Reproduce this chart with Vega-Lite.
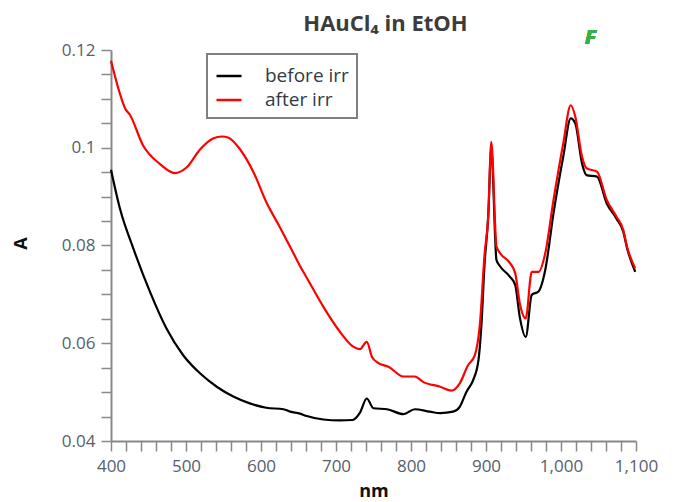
{
  "$schema": "https://vega.github.io/schema/vega-lite/v6.json",
  "width": 525,
  "height": 391,
  "autosize": "none",
  "padding": {"left": 111, "top": 50, "right": 40, "bottom": 61},
  "background": "white",
  "config": {"view": {"stroke": null}, "font": "Open Sans"},
  "title": {"text": "HAuCl₄ in EtOH", "fontSize": 22, "fontWeight": "bold", "color": "#3c3c3c", "font": "Open Sans", "anchor": "middle", "dx": 12, "offset": -8},
  "data": {"values": [
    {"nm": 400, "A": 0.0955, "series": "before irr"},
    {"nm": 412, "A": 0.0875, "series": "before irr"},
    {"nm": 430, "A": 0.0793, "series": "before irr"},
    {"nm": 452, "A": 0.0705, "series": "before irr"},
    {"nm": 474, "A": 0.0630, "series": "before irr"},
    {"nm": 496, "A": 0.0576, "series": "before irr"},
    {"nm": 519, "A": 0.0538, "series": "before irr"},
    {"nm": 541, "A": 0.0511, "series": "before irr"},
    {"nm": 563, "A": 0.0491, "series": "before irr"},
    {"nm": 585, "A": 0.0477, "series": "before irr"},
    {"nm": 607, "A": 0.0468, "series": "before irr"},
    {"nm": 630, "A": 0.0465, "series": "before irr"},
    {"nm": 639, "A": 0.0460, "series": "before irr"},
    {"nm": 652, "A": 0.0456, "series": "before irr"},
    {"nm": 661, "A": 0.0451, "series": "before irr"},
    {"nm": 683, "A": 0.0444, "series": "before irr"},
    {"nm": 705, "A": 0.0442, "series": "before irr"},
    {"nm": 722, "A": 0.0443, "series": "before irr"},
    {"nm": 732, "A": 0.0458, "series": "before irr"},
    {"nm": 741, "A": 0.0487, "series": "before irr"},
    {"nm": 750, "A": 0.0467, "series": "before irr"},
    {"nm": 768, "A": 0.0465, "series": "before irr"},
    {"nm": 790, "A": 0.0455, "series": "before irr"},
    {"nm": 805, "A": 0.0465, "series": "before irr"},
    {"nm": 825, "A": 0.0460, "series": "before irr"},
    {"nm": 839, "A": 0.0457, "series": "before irr"},
    {"nm": 856, "A": 0.0460, "series": "before irr"},
    {"nm": 865, "A": 0.0470, "series": "before irr"},
    {"nm": 874, "A": 0.0501, "series": "before irr"},
    {"nm": 883, "A": 0.0525, "series": "before irr"},
    {"nm": 890, "A": 0.0566, "series": "before irr"},
    {"nm": 894, "A": 0.0640, "series": "before irr"},
    {"nm": 898, "A": 0.0760, "series": "before irr"},
    {"nm": 903, "A": 0.0860, "series": "before irr"},
    {"nm": 907, "A": 0.1000, "series": "before irr"},
    {"nm": 914, "A": 0.0770, "series": "before irr"},
    {"nm": 919, "A": 0.0757, "series": "before irr"},
    {"nm": 932, "A": 0.0736, "series": "before irr"},
    {"nm": 939, "A": 0.0719, "series": "before irr"},
    {"nm": 945, "A": 0.0654, "series": "before irr"},
    {"nm": 953, "A": 0.0613, "series": "before irr"},
    {"nm": 961, "A": 0.0699, "series": "before irr"},
    {"nm": 970, "A": 0.0706, "series": "before irr"},
    {"nm": 979, "A": 0.0750, "series": "before irr"},
    {"nm": 990, "A": 0.0866, "series": "before irr"},
    {"nm": 1003, "A": 0.0982, "series": "before irr"},
    {"nm": 1013, "A": 0.1060, "series": "before irr"},
    {"nm": 1019, "A": 0.1050, "series": "before irr"},
    {"nm": 1028, "A": 0.0968, "series": "before irr"},
    {"nm": 1034, "A": 0.0944, "series": "before irr"},
    {"nm": 1048, "A": 0.0941, "series": "before irr"},
    {"nm": 1061, "A": 0.0886, "series": "before irr"},
    {"nm": 1074, "A": 0.0855, "series": "before irr"},
    {"nm": 1083, "A": 0.0828, "series": "before irr"},
    {"nm": 1088, "A": 0.0795, "series": "before irr"},
    {"nm": 1099, "A": 0.0746, "series": "before irr"},
    {"nm": 400, "A": 0.1178, "series": "after irr"},
    {"nm": 412, "A": 0.1110, "series": "after irr"},
    {"nm": 419, "A": 0.1080, "series": "after irr"},
    {"nm": 425, "A": 0.1068, "series": "after irr"},
    {"nm": 443, "A": 0.1004, "series": "after irr"},
    {"nm": 465, "A": 0.0967, "series": "after irr"},
    {"nm": 485, "A": 0.0948, "series": "after irr"},
    {"nm": 501, "A": 0.0960, "series": "after irr"},
    {"nm": 519, "A": 0.0997, "series": "after irr"},
    {"nm": 536, "A": 0.1019, "series": "after irr"},
    {"nm": 548, "A": 0.1023, "series": "after irr"},
    {"nm": 556, "A": 0.1021, "series": "after irr"},
    {"nm": 572, "A": 0.0997, "series": "after irr"},
    {"nm": 590, "A": 0.0950, "series": "after irr"},
    {"nm": 607, "A": 0.0889, "series": "after irr"},
    {"nm": 625, "A": 0.0838, "series": "after irr"},
    {"nm": 639, "A": 0.0797, "series": "after irr"},
    {"nm": 652, "A": 0.0758, "series": "after irr"},
    {"nm": 661, "A": 0.0734, "series": "after irr"},
    {"nm": 683, "A": 0.0675, "series": "after irr"},
    {"nm": 705, "A": 0.0624, "series": "after irr"},
    {"nm": 723, "A": 0.0593, "series": "after irr"},
    {"nm": 732, "A": 0.0588, "series": "after irr"},
    {"nm": 741, "A": 0.0603, "series": "after irr"},
    {"nm": 748, "A": 0.0572, "series": "after irr"},
    {"nm": 756, "A": 0.0560, "series": "after irr"},
    {"nm": 770, "A": 0.0552, "series": "after irr"},
    {"nm": 790, "A": 0.0532, "series": "after irr"},
    {"nm": 805, "A": 0.0532, "series": "after irr"},
    {"nm": 816, "A": 0.0521, "series": "after irr"},
    {"nm": 839, "A": 0.0511, "series": "after irr"},
    {"nm": 854, "A": 0.0503, "series": "after irr"},
    {"nm": 865, "A": 0.0518, "series": "after irr"},
    {"nm": 876, "A": 0.0555, "series": "after irr"},
    {"nm": 885, "A": 0.0575, "series": "after irr"},
    {"nm": 892, "A": 0.0641, "series": "after irr"},
    {"nm": 898, "A": 0.0780, "series": "after irr"},
    {"nm": 903, "A": 0.0860, "series": "after irr"},
    {"nm": 907, "A": 0.1012, "series": "after irr"},
    {"nm": 914, "A": 0.0798, "series": "after irr"},
    {"nm": 919, "A": 0.0784, "series": "after irr"},
    {"nm": 932, "A": 0.0764, "series": "after irr"},
    {"nm": 939, "A": 0.0743, "series": "after irr"},
    {"nm": 945, "A": 0.0682, "series": "after irr"},
    {"nm": 953, "A": 0.0651, "series": "after irr"},
    {"nm": 961, "A": 0.0746, "series": "after irr"},
    {"nm": 970, "A": 0.0746, "series": "after irr"},
    {"nm": 979, "A": 0.0784, "series": "after irr"},
    {"nm": 990, "A": 0.0893, "series": "after irr"},
    {"nm": 1003, "A": 0.1009, "series": "after irr"},
    {"nm": 1013, "A": 0.1087, "series": "after irr"},
    {"nm": 1019, "A": 0.1064, "series": "after irr"},
    {"nm": 1028, "A": 0.0982, "series": "after irr"},
    {"nm": 1034, "A": 0.0958, "series": "after irr"},
    {"nm": 1048, "A": 0.0951, "series": "after irr"},
    {"nm": 1061, "A": 0.0893, "series": "after irr"},
    {"nm": 1074, "A": 0.0859, "series": "after irr"},
    {"nm": 1083, "A": 0.0832, "series": "after irr"},
    {"nm": 1088, "A": 0.0798, "series": "after irr"},
    {"nm": 1099, "A": 0.0753, "series": "after irr"}
  ]},
  "layer": [
    {
      "mark": {"type": "line", "strokeWidth": 2.2, "interpolate": "monotone"},
      "encoding": {
        "x": {"field": "nm", "type": "quantitative",
          "scale": {"domain": [400, 1100], "nice": false, "zero": false},
          "axis": {
            "title": "nm", "titleFontSize": 18, "titleFontWeight": "bold", "titleColor": "#111111", "titleFont": "Open Sans", "titlePadding": 8,
            "values": [400,420,440,460,480,500,520,540,560,580,600,620,640,660,680,700,720,740,760,780,800,820,840,860,880,900,920,940,960,980,1000,1020,1040,1060,1080,1100],
            "tickCount": 200,
            "labelExpr": "datum.value % 100 === 0 ? format(datum.value, ',') : ''",
            "tickSize": 10,
            "encode": {"ticks": {"update": {"y2": {"signal": "datum.value % 100 === 0 ? 10 : 5"}}}},
            "labelFontSize": 17, "labelColor": "#56606c", "labelFont": "Open Sans", "labelPadding": 7,
            "labelFlush": false, "labelOverlap": false, "labelBound": false,
            "domainColor": "#888888", "domainWidth": 2, "tickColor": "#888888", "tickWidth": 1.5,
            "grid": false
          }},
        "y": {"field": "A", "type": "quantitative",
          "scale": {"domain": [0.04, 0.12], "nice": false, "zero": false},
          "axis": {
            "title": "A", "titleFontSize": 18, "titleFontWeight": "bold", "titleColor": "#111111", "titleFont": "Open Sans", "titleX": -90, "titleY": 193, "titleAngle": -90, "titleAlign": "center", "titleBaseline": "middle",
            "values": [0.04,0.045,0.05,0.055,0.06,0.065,0.07,0.075,0.08,0.085,0.09,0.095,0.1,0.105,0.11,0.115,0.12],
            "tickCount": 200,
            "labelExpr": "round(datum.value*1000) % 20 === 0 ? format(datum.value, '.2~f') : ''",
            "tickSize": 10,
            "encode": {"ticks": {"update": {"x2": {"signal": "round(datum.value*1000) % 20 === 0 ? -10 : -6"}}}},
            "labelFontSize": 17, "labelColor": "#56606c", "labelFont": "Open Sans", "labelPadding": 6,
            "labelFlush": false, "labelOverlap": false, "labelBound": false,
            "domainColor": "#888888", "domainWidth": 2, "tickColor": "#888888", "tickWidth": 1.5,
            "grid": false
          }},
        "color": {"field": "series", "type": "nominal",
          "scale": {"domain": ["before irr", "after irr"], "range": ["#000000", "#ff0000"]},
          "legend": {
            "title": null, "orient": "none", "legendX": 96, "legendY": 4,
            "symbolType": "stroke", "symbolSize": 625, "symbolStrokeWidth": 2.5,
            "labelFontSize": 19, "labelColor": "#333a44", "labelFont": "Open Sans", "labelOffset": 22,
            "labelExpr": "datum.label + '\u00a0\u00a0'",
            "strokeColor": "#808080", "padding": 8, "rowPadding": 0,
            "fillColor": "white",
            "encode": {"legend": {"update": {"strokeWidth": {"value": 2}}}}
          }}
      }
    },
    {
      "mark": {"type": "text", "text": "F", "fontSize": 20, "fontStyle": "italic", "fontWeight": "bold", "color": "#2fb34a", "font": "Open Sans", "clip": false},
      "encoding": {"x": {"datum": 1039}, "y": {"datum": 0.1225}}
    }
  ]
}
